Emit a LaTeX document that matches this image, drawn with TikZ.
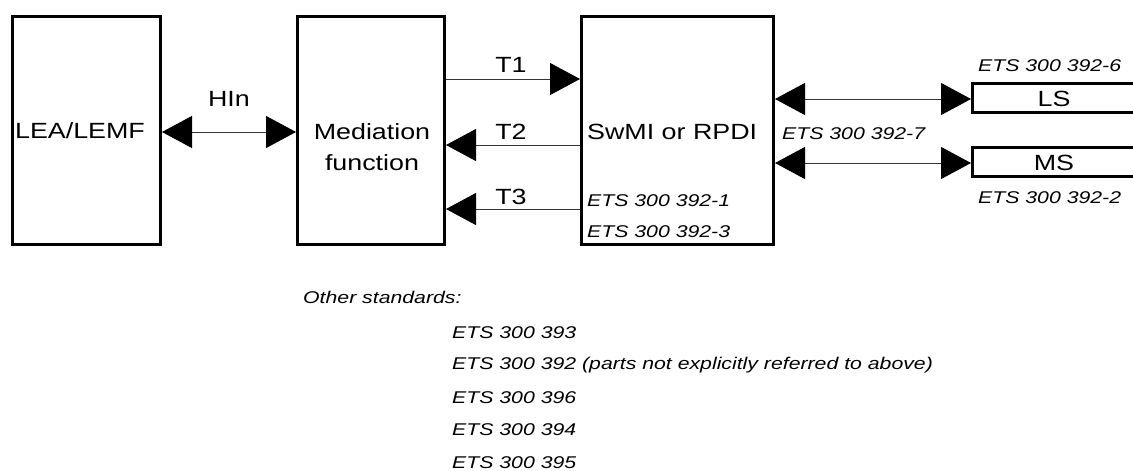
\documentclass[tikz,border=0pt]{standalone}
\usepackage{fontspec}
\setmainfont{Liberation Sans}
\usepackage{graphicx}
\usetikzlibrary{arrows.meta}
\newcommand{\hs}[1]{\scalebox{1.22}[1]{#1}}
\newcommand{\hsmall}[1]{\scalebox{1.25}[1]{#1}}
\tikzset{
  box/.style={draw, line width=3pt, rectangle, inner sep=0pt},
  conn/.style={draw=black!80, line width=0.9pt},
  tip/.tip={Triangle[length=30pt,width=32pt,color=black,fill=black]},
  big/.style={inner sep=0pt, font=\fontsize{22}{31}\selectfont},
  small/.style={inner sep=0pt, font=\fontsize{17}{20}\selectfont\itshape},
}
\begin{document}
\begin{tikzpicture}[x=1pt,y=-1pt]
\useasboundingbox (0,0) rectangle (1133,471);
% boxes
\node[box, minimum width=148pt, minimum height=228pt] (lea) at (86.5,130.5) {};
\node[box, minimum width=147pt, minimum height=228pt] (med) at (371,130.5) {};
\node[box, minimum width=192pt, minimum height=228pt] (swmi) at (677.5,130.5) {};
\node[box, minimum width=178pt, minimum height=29pt] (ls) at (1061.5,98) {};
\node[box, minimum width=178pt, minimum height=29pt] (ms) at (1061.5,162) {};
% level coordinates
\coordinate (yh) at (0,132);
\coordinate (y1) at (0,79);
\coordinate (y2) at (0,145);
\coordinate (y3) at (0,209);
\coordinate (yl) at (0,99);
\coordinate (ym) at (0,163);
% connectors
\draw[conn, {tip}-{tip}] (lea.east |- yh) -- (med.west |- yh);
\draw[conn, -{tip}] (med.east |- y1) -- (swmi.west |- y1);
\draw[conn, -{tip}] (swmi.west |- y2) -- (med.east |- y2);
\draw[conn, -{tip}] (swmi.west |- y3) -- (med.east |- y3);
\draw[conn, {tip}-{tip}] (swmi.east |- yl) -- (ls.west |- yl);
\draw[conn, {tip}-{tip}] (swmi.east |- ym) -- (ms.west |- ym);
% box texts
\node[big, anchor=base] (tlea) at (80,138.5) {\hs{LEA/LEMF}};
\node[big, anchor=base] (tmed1) at (372,139.5) {\hs{Mediation}};
\node[big, anchor=base] (tmed2) at (372,170.5) {\hs{function}};
\node[big, anchor=base west] (tswmi) at (587,139.5) {\hs{SwMI or RPDI}};
\node[big, anchor=base] (tls) at (1054,106.5) {\hs{LS}};
\node[big, anchor=base] (tms) at (1054,170.5) {\hs{MS}};
% connector labels
\node[big, anchor=base] (lhin) at (229,106.5) {\hs{HIn}};
\node[big, anchor=base] (lt1) at (511,72.5) {\hs{T1}};
\node[big, anchor=base] (lt2) at (511,139.5) {\hs{T2}};
\node[big, anchor=base] (lt3) at (511,204.5) {\hs{T3}};
% standards
\node[small, anchor=base west] (s1) at (587,206) {\hsmall{ETS 300 392-1}};
\node[small, anchor=base west] (s3) at (587,237) {\hsmall{ETS 300 392-3}};
\node[small, anchor=base west] (s6) at (978,71) {\hsmall{ETS 300 392-6}};
\node[small, anchor=base west] (s7) at (782,139) {\hsmall{ETS 300 392-7}};
\node[small, anchor=base west] (s2) at (978,203) {\hsmall{ETS 300 392-2}};
\node[small, anchor=base west] (oth) at (303,303) {\hsmall{Other standards:}};
\node[small, anchor=base west] (o1) at (452,338) {\hsmall{ETS 300 393}};
\node[small, anchor=base west] (o2) at (452,369) {\hsmall{ETS 300 392 (parts not explicitly referred to above)}};
\node[small, anchor=base west] (o3) at (452,403) {\hsmall{ETS 300 396}};
\node[small, anchor=base west] (o4) at (452,435) {\hsmall{ETS 300 394}};
\node[small, anchor=base west] (o5) at (452,468) {\hsmall{ETS 300 395}};
\end{tikzpicture}
\end{document}
